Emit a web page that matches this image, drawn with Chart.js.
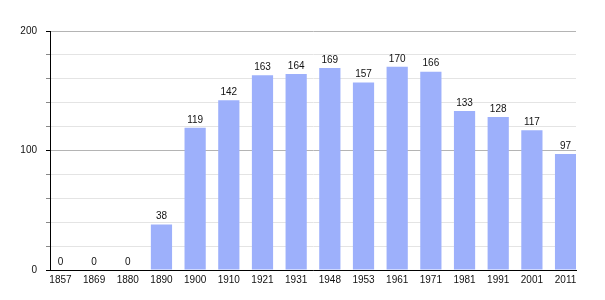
<!DOCTYPE html>
<html>
<head>
<meta charset="utf-8">
<script src="https://cdn.jsdelivr.net/npm/chart.js@4"></script>
<style>
  body { margin: 0; background: #fff; }
  #wrap { width: 605px; height: 300px; }
</style>
</head>
<body>
<div id="wrap"><canvas id="myChart"></canvas></div>
<script>
const years = ['1857', '1869', '1880', '1890', '1900', '1910', '1921', '1931', '1948', '1953', '1961', '1971', '1981', '1991', '2001', '2011'];
const population = [0, 0, 0, 38, 119, 142, 163, 164, 169, 157, 170, 166, 133, 128, 117, 97];
const yTicks = [0, 100, 200];

// bars sit on index positions so the first and last ones touch the axis ends
const points = population.map((v, i) => ({ x: i, y: v }));

const FONT = '"Liberation Sans", Arial, sans-serif';

// writes the value over each bar
const valueLabels = {
  id: 'valueLabels',
  afterDatasetsDraw(chart) {
    const ctx = chart.ctx;
    const meta = chart.getDatasetMeta(0);
    ctx.save();
    ctx.font = '10px ' + FONT;
    ctx.fillStyle = '#111';
    ctx.textAlign = 'center';
    ctx.textBaseline = 'bottom';
    meta.data.forEach((bar, i) => {
      ctx.fillText(String(population[i]), bar.x, bar.y - 3);
    });
    ctx.restore();
  }
};

window.onload = function () {
  const ctx = document.getElementById('myChart');
  window.myChart = new Chart(ctx, {
    type: 'bar',
    data: {
      datasets: [{
        data: points,
        backgroundColor: '#9db0fb',
        barPercentage: 0.63,
        categoryPercentage: 1.0
      }]
    },
    options: {
      responsive: true,
      maintainAspectRatio: false,
      animation: false,
      layout: { padding: { left: 0, right: 29, top: 31, bottom: 0 } },
      plugins: { legend: { display: false }, tooltip: { enabled: false } },
      scales: {
        x: {
          type: 'linear',
          min: -0.31,
          max: years.length - 1 + 0.31,
          offset: false,
          grid: { display: false, drawTicks: false },
          border: { color: '#000', width: 1 },
          afterBuildTicks(scale) {
            scale.ticks = years.map((y, i) => ({ value: i }));
          },
          ticks: {
            color: '#111',
            font: { family: FONT, size: 10 },
            padding: 4,
            maxRotation: 0,
            autoSkip: false,
            callback: v => years[v]
          },
          afterFit(scale) { scale.height = 30; }
        },
        y: {
          min: 0,
          max: 200,
          border: { color: '#000', width: 1 },
          grid: {
            color: c => (yTicks.includes(c.tick.value) ? '#b4b4b4' : '#e4e4e4'),
            tickColor: c => (yTicks.includes(c.tick.value) ? '#000' : '#888'),
            tickLength: 4
          },
          ticks: {
            stepSize: 20,
            color: '#111',
            font: { family: FONT, size: 10 },
            padding: 9,
            callback: v => (yTicks.includes(v) ? v : '')
          },
          afterFit(scale) { scale.width = 50; }
        }
      }
    },
    plugins: [valueLabels]
  });
};
</script>
</body>
</html>
